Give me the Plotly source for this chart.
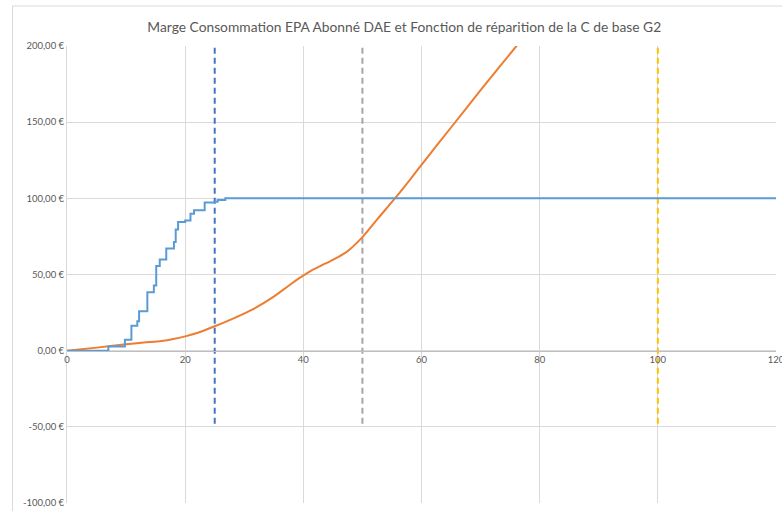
import plotly.graph_objects as go

# Step curve (fonction de répartition)
step_x = [0, 7.0, 9.8, 10.9, 11.9, 12.2, 13.6, 14.7, 15.1, 15.7, 16.8, 18.1, 18.4, 18.8,
          20.0, 20.9, 21.5, 23.3, 25.0, 25.5, 26.8, 120]
step_y = [0, 2.8, 7.2, 16.4, 19.3, 25.9, 38.4, 42.8, 55.5, 59.9, 67.1, 71.3, 79.6, 84.4,
          85.5, 89.9, 92.1, 97.2, 97.8, 98.9, 100, 100]

# Marge consommation curve
marge_x = [0, 5, 10, 13, 16, 18, 20, 22, 25, 28, 31.6, 35, 37.3, 39, 41, 43, 45, 47.4, 50,
           52.5, 55.6, 58.1, 60, 65, 70, 76.2, 80]
marge_y = [0, 2.0, 4.2, 5.3, 6.3, 7.6, 9.4, 11.6, 16, 20.9, 27.5, 35.5, 42.0, 46.8, 51.8,
           55.8, 59.6, 65.0, 74.5, 86.2, 100.4, 112.5, 122, 146.5, 171, 200.6, 219]

# Vertical reference lines
vlines_x = [25, 50, 100]
vlines_y = [-48, 200]
vline_colors = ["#4472C4", "#A5A5A5", "#FFC000"]

x_ticks = [0, 20, 40, 60, 80, 100, 120]
y_ticks = [-100, -50, 0, 50, 100, 150, 200]
y_ticktext = ["-100,00 €", "-50,00 €", "0,00 €", "50,00 €", "100,00 €", "150,00 €", "200,00 €"]

title = "Marge Consommation EPA Abonné DAE et Fonction de réparition de la C de base G2"

fig = go.Figure()

for xv, col in zip(vlines_x, vline_colors):
    fig.add_trace(go.Scatter(x=[xv, xv], y=vlines_y, mode="lines",
                             line=dict(color=col, width=2, dash="6px,4px"),
                             hoverinfo="skip"))

fig.add_trace(go.Scatter(x=marge_x, y=marge_y, mode="lines",
                         line=dict(color="#ED7D31", width=2, shape="spline", smoothing=0.8)))
fig.add_trace(go.Scatter(x=step_x, y=step_y, mode="lines",
                         line=dict(color="#5B9BD5", width=2, shape="hv")))

grid = "#D9D9D9"
fig.update_layout(
    width=782, height=511,
    margin=dict(l=66.5, r=6, t=46, b=8, autoexpand=False),
    paper_bgcolor="white", plot_bgcolor="white",
    showlegend=False,
    font=dict(family="Lato, Open Sans, sans-serif", size=9.5, color="#595959"),
    title=dict(text=title, x=0.4757, xref="paper", xanchor="center",
               y=1 - 27 / 511, yref="container", yanchor="middle", automargin=False,
               font=dict(family="Lato, Open Sans, sans-serif", size=13.8, color="#595959")),
    xaxis=dict(range=[0, 120], tickvals=x_ticks, ticktext=[str(v) for v in x_ticks],
               showgrid=True, gridcolor=grid, gridwidth=1,
               anchor="free", position=1 / 3, automargin=False,
               ticklabeloverflow="allow",
               showline=True, linecolor="#BFBFBF", linewidth=1,
               zeroline=False, ticks="", fixedrange=True),
    yaxis=dict(range=[-100, 200], tickvals=y_ticks, ticktext=y_ticktext,
               showgrid=True, gridcolor=grid, gridwidth=1, automargin=False,
               showline=True, linecolor=grid, linewidth=1,
               zeroline=False, ticks="", fixedrange=True),
    shapes=[dict(type="rect", xref="paper", yref="paper",
                 x0=(12 - 66.5) / 709.5, x1=1.06, y0=-0.06, y1=(503 - 6) / 457,
                 line=dict(color=grid, width=1), fillcolor="rgba(0,0,0,0)", layer="below")],
)

fig.write_html("out.html", config={"displayModeBar": False},
               post_script="document.body.style.margin='0';document.body.style.overflow='hidden';")
